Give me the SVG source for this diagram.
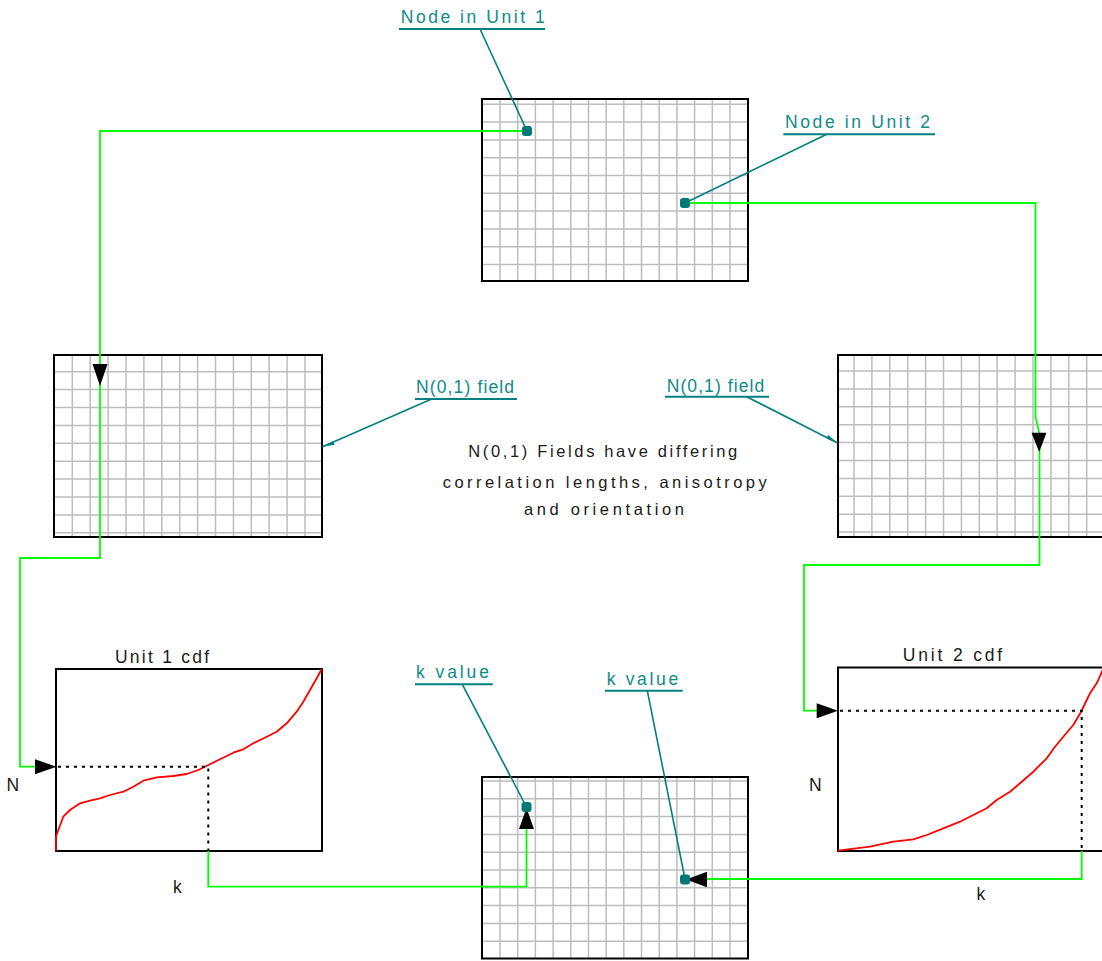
<svg xmlns="http://www.w3.org/2000/svg" width="1102" height="961" viewBox="0 0 1102 961">
<defs>
<style>
.bg{fill:#ffffff}
.grid{fill:none;stroke:#bdbdbd;stroke-width:1.5}
.box{fill:none;stroke:#000;stroke-width:2}
.green{fill:none;stroke:#00ff00;stroke-width:1.8}
.arrow{fill:#000;stroke:none}
.teal{fill:none;stroke:#008080;stroke-width:1.6}
.ul{fill:none;stroke:#008080;stroke-width:2}
.dot{fill:#007878}
.lbl{font-family:"Liberation Sans",Arial,sans-serif;font-size:17.5px;fill:#108a8a}
.txt{font-family:"Liberation Sans",Arial,sans-serif;font-size:16.5px;fill:#1a1a1a}
.txt17{font-family:"Liberation Sans",Arial,sans-serif;font-size:17.5px;fill:#1a1a1a}
.dash{fill:none;stroke:#000;stroke-width:2;stroke-dasharray:3 5}
.curve{fill:none;stroke:#ff0000;stroke-width:1.8;stroke-linejoin:round}
</style>
<marker id="barb" viewBox="0 0 12 6" refX="12" refY="3" markerWidth="12" markerHeight="6" markerUnits="userSpaceOnUse" orient="auto">
<path d="M0,0 L12,3 L0,4 Z" fill="#008080"/>
</marker>
</defs>
<rect class="bg" x="0" y="0" width="1102" height="961"/>

<g id="grid-top">
<rect x="482" y="99" width="266" height="182" fill="#fff"/>
<path class="grid" d="M500 99V281M517.7 99V281M535.4 99V281M553.1 99V281M570.8 99V281M588.5 99V281M606.1 99V281M623.8 99V281M641.5 99V281M659.2 99V281M676.9 99V281M694.6 99V281M712.3 99V281M730 99V281M482 104.3H748M482 122.1H748M482 139.9H748M482 157.7H748M482 175.5H748M482 193.3H748M482 211.1H748M482 228.9H748M482 246.7H748M482 264.5H748"/>
<rect class="box" x="482" y="99" width="266" height="182"/>
</g>

<g id="grid-left">
<rect x="54" y="355" width="268" height="182" fill="#fff"/>
<path class="grid" d="M72.3 355V537M90.2 355V537M108.1 355V537M126 355V537M143.9 355V537M161.8 355V537M179.7 355V537M197.6 355V537M215.5 355V537M233.4 355V537M251.3 355V537M269.2 355V537M287.1 355V537M305 355V537M54 371.7H322M54 389.6H322M54 407.5H322M54 425.4H322M54 443.3H322M54 461.2H322M54 479.1H322M54 497H322M54 514.9H322M54 532.8H322"/>
<rect class="box" x="54" y="355" width="268" height="182"/>
</g>

<g id="grid-right">
<rect x="838" y="355" width="266" height="182" fill="#fff"/>
<path class="grid" d="M854 355V537M871.9 355V537M889.8 355V537M907.7 355V537M925.6 355V537M943.5 355V537M961.4 355V537M979.3 355V537M997.2 355V537M1015.1 355V537M1033 355V537M1050.9 355V537M1068.8 355V537M1086.7 355V537M838 371H1104M838 388.9H1104M838 406.8H1104M838 424.7H1104M838 442.6H1104M838 460.5H1104M838 478.4H1104M838 496.3H1104M838 514.2H1104M838 532.1H1104"/>
<rect class="box" x="838" y="355" width="266" height="182"/>
</g>

<g id="grid-bottom">
<rect x="482" y="777" width="266" height="181.5" fill="#fff"/>
<path class="grid" d="M500 777V958.5M517.7 777V958.5M535.4 777V958.5M553.1 777V958.5M570.8 777V958.5M588.5 777V958.5M606.1 777V958.5M623.8 777V958.5M641.5 777V958.5M659.2 777V958.5M676.9 777V958.5M694.6 777V958.5M712.3 777V958.5M730 777V958.5M482 781H748M482 798.8H748M482 816.6H748M482 834.4H748M482 852.2H748M482 870H748M482 887.8H748M482 905.6H748M482 923.4H748M482 941.2H748"/>
<rect class="box" x="482" y="777" width="266" height="181.5"/>
</g>

<g id="cdf-unit1">
<text class="txt17" x="115" y="662.7" textLength="94" lengthAdjust="spacing">Unit 1 cdf</text>
<rect class="box" x="56" y="669" width="266" height="182"/>
<polyline class="curve" points="56,850.7 56,836.7 58.3,830 63.3,816.7 70,810 80,803.3 90,800.7 100,798.3 110,795 123.3,791.7 133.3,786.7 143.3,780.7 156.7,777.3 173.3,776 186.7,774 198.3,770 208.3,765 220,759.3 233.3,752.7 243.3,749.3 253.3,743.3 266.7,736.7 276.7,731.7 286.7,723.3 296.7,711.7 303.3,701.7 310,690 316.7,678.3 321.7,669"/>
<path class="dash" d="M58 766.7H208.3V850"/>
<text class="txt17" x="6.5" y="790.7">N</text>
<text class="txt17" x="173" y="893">k</text>
</g>

<g id="cdf-unit2">
<text class="txt17" x="902.7" y="660.7" textLength="99.5" lengthAdjust="spacing">Unit 2 cdf</text>
<rect class="box" x="838" y="667.5" width="266" height="183.5"/>
<polyline class="curve" points="837.7,850.7 870,846.7 893.3,841.7 913.3,839.3 926.7,835 943.3,828.3 960,821.7 973.3,815 986.7,808.3 996.7,800 1010,791.7 1020,783.3 1033.3,771.7 1046.7,758.3 1055,746.7 1063.3,736.7 1073.3,725 1081.7,710.7 1086.7,700 1090,693.3 1096.7,683.3 1101.7,672.3 1104,667"/>
<path class="dash" d="M840 710.7H1081.7V850"/>
<text class="txt17" x="809" y="790.7">N</text>
<text class="txt17" x="976.5" y="900">k</text>
</g>

<g id="center-note">
<text class="txt" x="468.3" y="457.3" textLength="269" lengthAdjust="spacing">N(0,1) Fields have differing</text>
<text class="txt" x="442.7" y="487.8" textLength="324" lengthAdjust="spacing">correlation lengths, anisotropy</text>
<text class="txt" x="524" y="515" textLength="160" lengthAdjust="spacing">and orientation</text>
</g>

<g id="connectors">
<path class="green" d="M527 131H100V558H20V766.7H40"/>
<path class="green" d="M685 203H1035.5V417L1039.5 434V565H804V710.7H820"/>
<path class="green" d="M208.3 851V886.7H526.5V826"/>
<path class="green" d="M1081.7 851V879H704"/>
<polygon class="arrow" points="92.5,364 107.5,364 100,386"/>
<polygon class="arrow" points="35,759.2 35,774.2 56.5,766.7"/>
<polygon class="arrow" points="519,829 534,829 526.5,808"/>
<polygon class="arrow" points="1031.5,432.7 1046.5,432.7 1039.2,452"/>
<polygon class="arrow" points="816.7,703.2 816.7,718.2 838,710.7"/>
<polygon class="arrow" points="707,871.7 707,887.2 686,879.5"/>
</g>

<g id="label-node-unit1">
<text class="lbl" x="400.7" y="22.7" textLength="144" lengthAdjust="spacing">Node in Unit 1</text>
<path class="ul" d="M399 29H545"/>
<path class="teal" d="M480 29L527 131"/>
<rect class="dot" x="522" y="126" width="10" height="10" rx="3"/>
</g>

<g id="label-node-unit2">
<text class="lbl" x="785" y="128.3" textLength="145" lengthAdjust="spacing">Node in Unit 2</text>
<path class="ul" d="M783.3 134.3H935"/>
<path class="teal" d="M826.7 134.3L685 203"/>
<rect class="dot" x="680" y="198" width="10" height="10" rx="3"/>
</g>

<g id="label-field-left">
<text class="lbl" x="416" y="392.7" textLength="98" lengthAdjust="spacing">N(0,1) field</text>
<path class="ul" d="M415 399H517"/>
<path class="teal" d="M431.7 399L322.5 446.7" marker-end="url(#barb)"/>
</g>

<g id="label-field-right">
<text class="lbl" x="666.7" y="391.7" textLength="97.5" lengthAdjust="spacing">N(0,1) field</text>
<path class="ul" d="M665 396.7H769"/>
<path class="teal" d="M746.7 396.7L837.5 443" marker-end="url(#barb)"/>
</g>

<g id="label-k-left">
<text class="lbl" x="416" y="678.3" textLength="73" lengthAdjust="spacing">k value</text>
<path class="ul" d="M415 684.3H492.7"/>
<path class="teal" d="M462.3 684.3L526.5 807"/>
<rect class="dot" x="521.5" y="802" width="10" height="10" rx="3"/>
</g>

<g id="label-k-right">
<text class="lbl" x="606.7" y="685" textLength="71.5" lengthAdjust="spacing">k value</text>
<path class="ul" d="M605 690.7H682.7"/>
<path class="teal" d="M647.3 690.7L685 879"/>
<rect class="dot" x="680" y="874.5" width="10" height="10" rx="3"/>
</g>
</svg>
